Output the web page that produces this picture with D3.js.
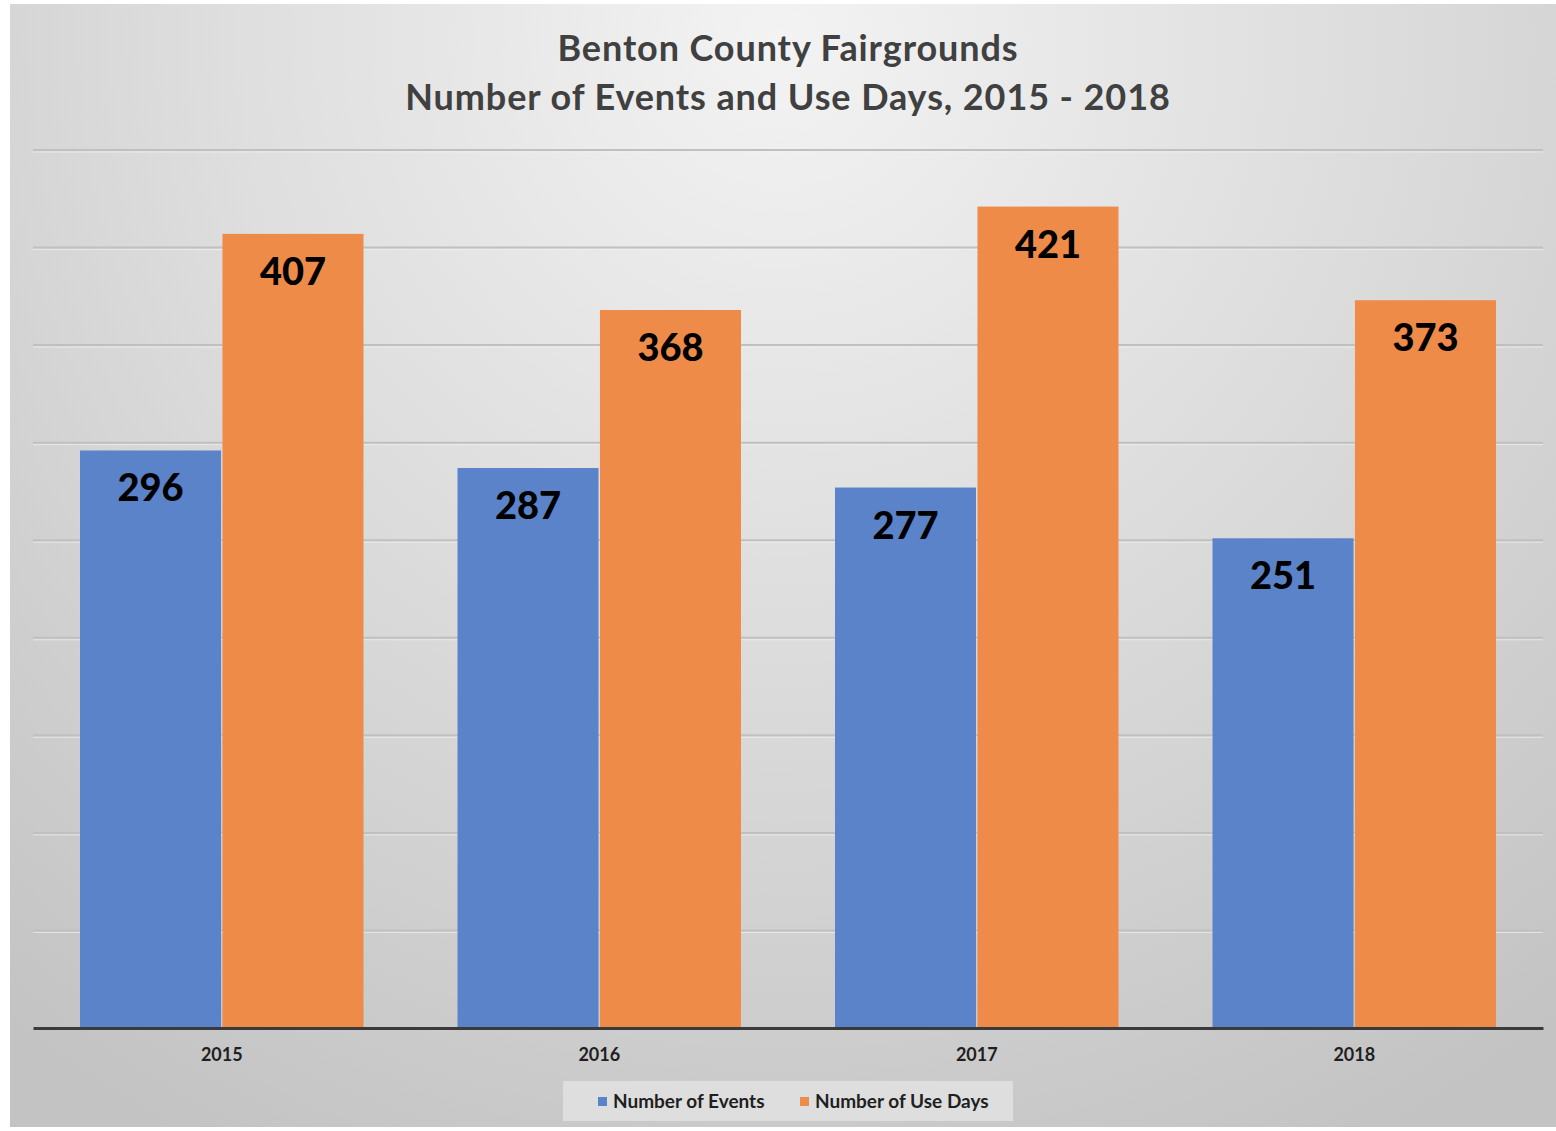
<!DOCTYPE html>
<html>
<head>
<meta charset="utf-8">
<script src="https://cdn.jsdelivr.net/npm/d3@7"></script>
<style>
  body { margin: 0; background: #ffffff; }
  svg text { font-family: Lato, "Open Sans", sans-serif; }
</style>
</head>
<body>
<div id="chart"></div>
<script>
const years = ["2015", "2016", "2017", "2018"];
const seriesNames = ["Number of Events", "Number of Use Days"];
const events = [296, 287, 277, 251];
const useDays = [407, 368, 421, 373];
const yTicks = [0, 50, 100, 150, 200, 250, 300, 350, 400, 450];
const colors = ["#5b83c9", "#ee8b49"];

const width = 1556, height = 1131;
const svg = d3.select("#chart").append("svg")
    .attr("width", width)
    .attr("height", height);

// background with radial gradient like the office chart style
const defs = svg.append("defs");
const grad = defs.append("radialGradient")
    .attr("id", "bg")
    .attr("gradientUnits", "userSpaceOnUse")
    .attr("cx", 780).attr("cy", 40)
    .attr("r", 1250);
grad.append("stop").attr("offset", "0%").attr("stop-color", "#f3f3f3");
grad.append("stop").attr("offset", "55%").attr("stop-color", "#d9d9d9");
grad.append("stop").attr("offset", "100%").attr("stop-color", "#c3c3c3");

svg.append("rect")
    .attr("x", 10).attr("y", 4)
    .attr("width", width - 10).attr("height", 1123)
    .attr("fill", "url(#bg)");

// title
const title = svg.append("text")
    .attr("text-anchor", "middle")
    .attr("font-size", 36)
    .attr("font-weight", "bold")
    .attr("letter-spacing", 0.9)
    .attr("fill", "#404040");
title.append("tspan").attr("x", 788).attr("y", 61).text("Benton County Fairgrounds");
title.append("tspan").attr("x", 788).attr("y", 110).text("Number of Events and Use Days, 2015 - 2018");

const plotLeft = 33, plotRight = 1543, plotTop = 150, plotBottom = 1028;

const x0 = d3.scaleBand().domain(years).range([plotLeft, plotRight]);
const x1 = d3.scaleBand().domain(seriesNames)
    .range([47, x0.bandwidth() - 47]).paddingInner(0.01);
const y = d3.scaleLinear().domain([0, 450]).range([plotBottom, plotTop]);

// gridlines
const grid = svg.append("g");
grid.selectAll("line.g").data(yTicks.slice(1)).enter().append("line")
    .attr("class", "g")
    .attr("x1", plotLeft).attr("x2", plotRight)
    .attr("y1", d => y(d)).attr("y2", d => y(d))
    .attr("stroke", "#c0c0c0").attr("stroke-width", 2);
grid.selectAll("line.h").data(yTicks.slice(1)).enter().append("line")
    .attr("class", "h")
    .attr("x1", plotLeft).attr("x2", plotRight)
    .attr("y1", d => y(d) + 2).attr("y2", d => y(d) + 2)
    .attr("stroke", "#f2f2f2").attr("stroke-width", 1).attr("opacity", 0.7);

const rows = years.map((yr, i) => ({
  year: yr,
  vals: [
    { name: seriesNames[0], value: events[i], color: colors[0] },
    { name: seriesNames[1], value: useDays[i], color: colors[1] }
  ]
}));

const groups = svg.selectAll("g.year").data(rows).enter().append("g")
    .attr("class", "year")
    .attr("transform", d => "translate(" + x0(d.year) + ",0)");

groups.selectAll("rect").data(d => d.vals).enter().append("rect")
    .attr("x", d => x1(d.name))
    .attr("y", d => y(d.value))
    .attr("width", x1.bandwidth())
    .attr("height", d => plotBottom - y(d.value))
    .attr("fill", d => d.color);

groups.selectAll("text.val").data(d => d.vals).enter().append("text")
    .attr("class", "val")
    .attr("x", d => x1(d.name) + x1.bandwidth() / 2)
    .attr("y", d => y(d.value) + 51)
    .attr("text-anchor", "middle")
    .attr("font-size", 38)
    .attr("font-weight", "900")
    .attr("fill", "#000000")
    .text(d => d.value);

// x axis
const xAxis = d3.axisBottom(x0).tickSize(0).tickPadding(20);
const xg = svg.append("g")
    .attr("transform", "translate(0," + plotBottom + ")")
    .call(xAxis);
xg.select(".domain").attr("stroke", "#3a3a3a").attr("stroke-width", 3);
xg.selectAll("text")
    .attr("font-size", 18)
    .attr("font-weight", "bold")
    .attr("fill", "#1f1f1f")
    .style("font-family", "Lato, 'Open Sans', sans-serif");

// legend
const legend = svg.append("g");
legend.append("rect")
    .attr("x", 563).attr("y", 1081)
    .attr("width", 450).attr("height", 40)
    .attr("fill", "#dedede");
const legX = [598, 800];
seriesNames.forEach((n, i) => {
  legend.append("rect")
      .attr("x", legX[i]).attr("y", 1097)
      .attr("width", 9).attr("height", 9)
      .attr("fill", colors[i]);
  legend.append("text")
      .attr("x", legX[i] + 15).attr("y", 1108)
      .attr("font-size", 19)
      .attr("font-weight", "bold")
      .attr("fill", "#1f1f1f")
      .text(n);
});
</script>
</body>
</html>
